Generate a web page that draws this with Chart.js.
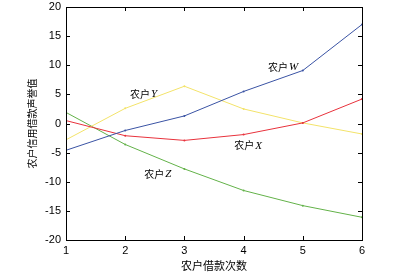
<!DOCTYPE html>
<html lang="zh">
<head>
    <meta charset="UTF-8">
    <title>农户信用借款声誉值</title>
    <script src="https://cdn.jsdelivr.net/npm/chart.js"></script>
    <style>
        * { margin: 0; padding: 0; box-sizing: border-box; }
        body { background: #fff; width: 401px; height: 275px; overflow: hidden; }
        .chart-box { position: relative; width: 401px; height: 275px; }
    </style>
</head>
<body>
    <div class="chart-box">
        <canvas id="sheng-yu"></canvas>
    </div>

    <script>
        // 借款次数与各农户的声誉值
        const borrowCounts = [1, 2, 3, 4, 5, 6];
        const farmerW = [-4.6, -1.2, 1.3, 5.5, 9.1, 17.0];
        const farmerX = [0.5, -2.1, -2.9, -1.9, 0.1, 4.2];
        const farmerY = [-2.8, 2.6, 6.4, 2.5, 0.1, -1.8];
        const farmerZ = [1.9, -3.6, -7.8, -11.5, -14.1, -16.1];
        const yTicks = [-20, -15, -10, -5, 0, 5, 10, 15, 20];

        // 曲线旁的标注 (数据坐标)
        const curveLabels = [
            { name: 'W', x: 4.75, y: 9.6 },
            { name: 'Y', x: 2.42, y: 5.1 },
            { name: 'X', x: 4.18, y: -3.8 },
            { name: 'Z', x: 2.66, y: -8.75 }
        ];

        const toPoints = vals => vals.map((v, i) => ({ x: borrowCounts[i], y: v }));

        const tickFont = { family: "'Liberation Sans', Arial, sans-serif", size: 11 };
        const cjkFont = "'Noto Sans CJK SC', sans-serif";

        // 边框、向内刻度、曲线标注
        const framePlugin = {
            id: 'frame',
            afterDraw(chart) {
                const { ctx, chartArea: a, scales } = chart;
                ctx.save();
                ctx.strokeStyle = '#000';
                ctx.lineWidth = 1;
                ctx.strokeRect(Math.round(a.left) + 0.5, Math.round(a.top) + 0.5,
                    Math.round(a.right - a.left), Math.round(a.bottom - a.top));
                ctx.beginPath();
                borrowCounts.forEach(v => {
                    const px = Math.round(scales.x.getPixelForValue(v)) + 0.5;
                    ctx.moveTo(px, a.bottom); ctx.lineTo(px, a.bottom - 4);
                    ctx.moveTo(px, a.top); ctx.lineTo(px, a.top + 4);
                });
                yTicks.forEach(v => {
                    const py = Math.round(scales.y.getPixelForValue(v)) + 0.5;
                    ctx.moveTo(a.left, py); ctx.lineTo(a.left + 4, py);
                    ctx.moveTo(a.right, py); ctx.lineTo(a.right - 4, py);
                });
                ctx.stroke();

                ctx.fillStyle = '#000';
                ctx.textBaseline = 'middle';
                curveLabels.forEach(l => {
                    const px = scales.x.getPixelForValue(l.x);
                    const py = scales.y.getPixelForValue(l.y);
                    ctx.font = '10px ' + cjkFont;
                    ctx.textAlign = 'right';
                    ctx.fillText('农户', px, py);
                    ctx.font = 'italic 11px "Liberation Serif", serif';
                    ctx.textAlign = 'left';
                    ctx.fillText(l.name, px + 1, py);
                });
                ctx.restore();
            }
        };

        const ctx = document.getElementById('sheng-yu').getContext('2d');
        new Chart(ctx, {
            type: 'line',
            data: {
                datasets: [
                    { label: '农户W', data: toPoints(farmerW), borderColor: '#3a53a4', backgroundColor: '#3a53a4' },
                    { label: '农户X', data: toPoints(farmerX), borderColor: '#e8323c', backgroundColor: '#e8323c' },
                    { label: '农户Y', data: toPoints(farmerY), borderColor: '#f3e36a', backgroundColor: '#f3e36a' },
                    { label: '农户Z', data: toPoints(farmerZ), borderColor: '#63b249', backgroundColor: '#63b249' }
                ]
            },
            options: {
                responsive: true,
                maintainAspectRatio: false,
                animation: false,
                elements: {
                    line: { borderWidth: 1, tension: 0 },
                    point: { radius: 1, borderWidth: 0 }
                },
                layout: { padding: { top: 7, right: 39, left: 0, bottom: 0 } },
                plugins: {
                    legend: { display: false },
                    tooltip: { enabled: false }
                },
                scales: {
                    x: {
                        type: 'linear',
                        min: 1,
                        max: 6,
                        afterFit: s => { s.height = 35; s.paddingLeft = 0; s.paddingRight = 0; },
                        afterBuildTicks: s => { s.ticks = borrowCounts.map(v => ({ value: v })); },
                        grid: { display: false, drawTicks: false },
                        border: { display: false },
                        ticks: { color: '#000', font: tickFont, padding: 4 },
                        title: {
                            display: true,
                            text: '农户借款次数',
                            color: '#000',
                            font: { family: cjkFont, size: 11 },
                            padding: { top: 0, bottom: 3 }
                        }
                    },
                    y: {
                        min: -20,
                        max: 20,
                        afterFit: s => { s.width = 66; s.paddingTop = 0; s.paddingBottom = 0; },
                        afterBuildTicks: s => { s.ticks = yTicks.map(v => ({ value: v })); },
                        grid: { display: false, drawTicks: false },
                        border: { display: false },
                        ticks: { color: '#000', font: tickFont, padding: 5 },
                        title: {
                            display: true,
                            text: '农户信用借款声誉值',
                            color: '#000',
                            font: { family: cjkFont, size: 10 },
                            padding: { top: 26, bottom: 0 }
                        }
                    }
                }
            },
            plugins: [framePlugin]
        });
    </script>
</body>
</html>
